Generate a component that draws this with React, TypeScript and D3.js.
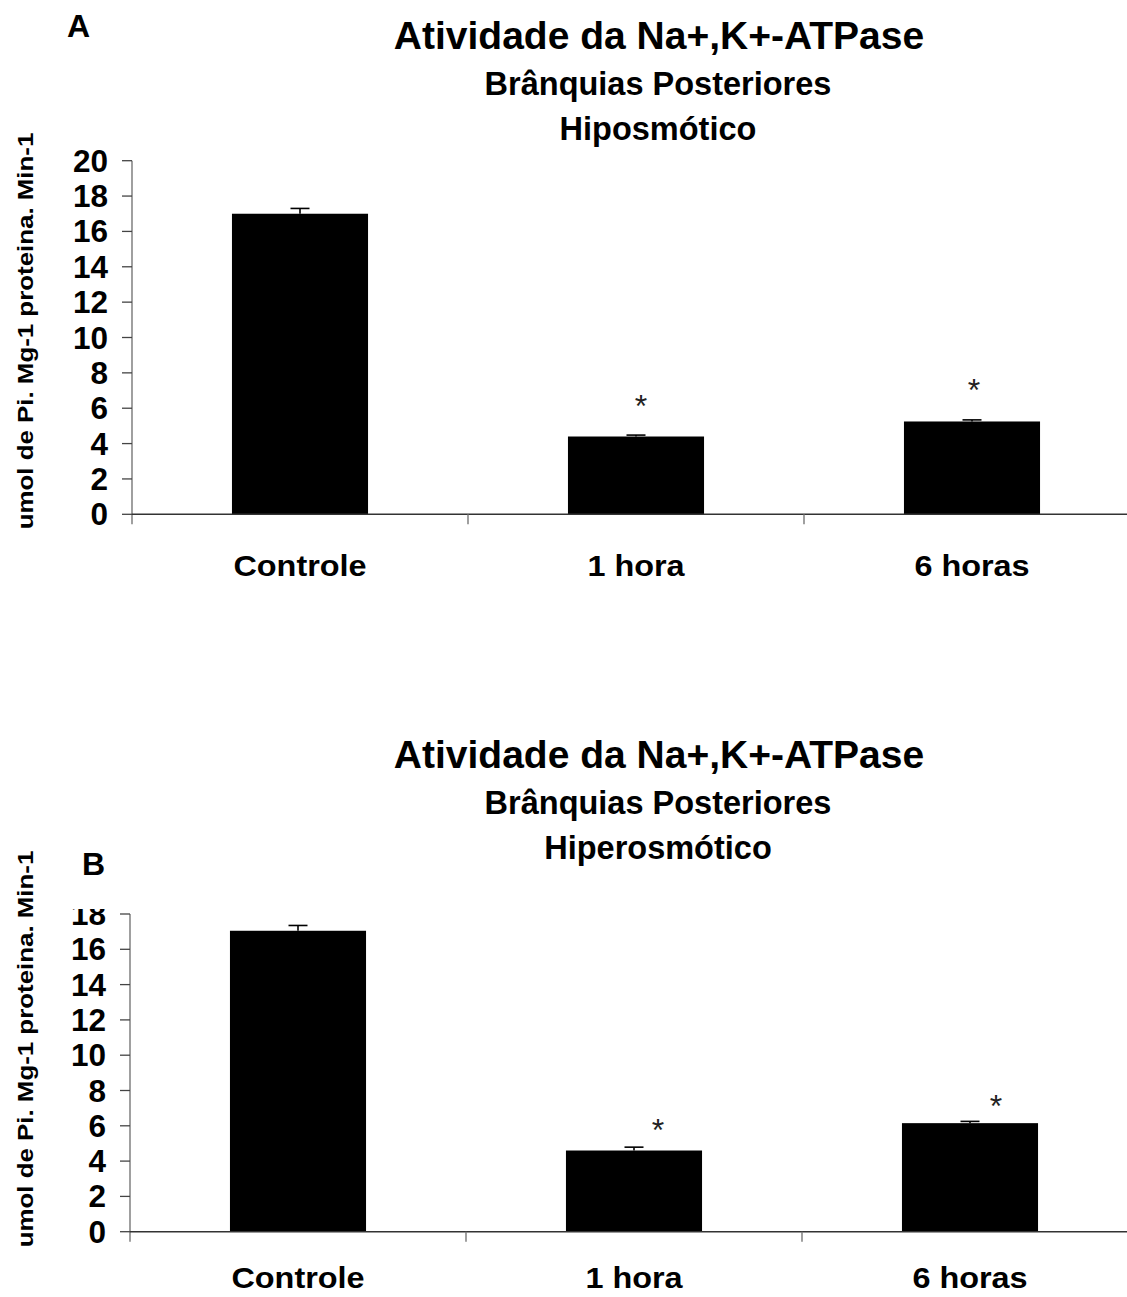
import React from 'react'
import * as d3 from 'd3'

// categories and values
const categories = ['Controle', '1 hora', '6 horas']

const hipoValues = [17.0, 4.4, 5.25]
const hipoErrors = [0.3, 0.08, 0.09]
const hipoStars = [null, 6.6, 7.5]
const hipoTicks = [0, 2, 4, 6, 8, 10, 12, 14, 16, 18, 20]

const hiperValues = [17.05, 4.6, 6.15]
const hiperErrors = [0.3, 0.19, 0.1]
const hiperStars = [null, 6.2, 7.55]
const hiperTicks = [0, 2, 4, 6, 8, 10, 12, 14, 16, 18]

const titleLine = 'Atividade da Na+,K+-ATPase'
const subtitleLine = 'Brânquias Posteriores'
const yLabel = 'umol de Pi. Mg-1 proteina. Min-1'

const font = '"Liberation Sans", Arial, Helvetica, sans-serif'

function Panel(props) {
    const { id, values, errors, stars, starDx, ticks, yMax, x0, y0, yTop, clipTop,
        titleY, condition, letter, letterX, letterY, labelCenterY, xLabelY } = props

    const step = 336
    const x = d3.scaleBand()
        .domain(categories)
        .range([x0, x0 + step * categories.length])
        .paddingInner(0.595)
        .paddingOuter(0.2975)
    const y = d3.scaleLinear().domain([0, yMax]).range([y0, yTop])

    const boundaries = d3.range(categories.length + 1).map(i => x0 + i * x.step())
    const capHalf = 9.5

    return (
        <g>
            <defs>
                <clipPath id={'clip-' + id}>
                    <rect x={0} y={clipTop} width={1127} height={y0 - clipTop + 40} />
                </clipPath>
            </defs>

            {/* titles */}
            <text x={659} y={titleY} textAnchor="middle" fontFamily={font} fontWeight="bold" fontSize={39}>{titleLine}</text>
            <text x={658} y={titleY + 46} textAnchor="middle" fontFamily={font} fontWeight="bold" fontSize={32.5}>{subtitleLine}</text>
            <text x={658} y={titleY + 91} textAnchor="middle" fontFamily={font} fontWeight="bold" fontSize={32.5}>{condition}</text>

            <text x={letterX} y={letterY} fontFamily={font} fontWeight="bold" fontSize={32}>{letter}</text>

            {/* y axis label */}
            <text transform={`translate(33,${labelCenterY}) rotate(-90) scale(1.15,1)`} textAnchor="middle"
                fontFamily={font} fontWeight="bold" fontSize={22.5}>{yLabel}</text>

            {/* bars */}
            {values.map((v, i) => (
                <rect key={'b' + i} x={x(categories[i])} y={y(v)} width={x.bandwidth()} height={y0 - y(v)} fill="#000" />
            ))}

            {/* error bars (upper only) */}
            {values.map((v, i) => {
                const cx = x(categories[i]) + x.bandwidth() / 2
                const top = y(v + errors[i])
                return (
                    <g key={'e' + i} stroke="#000" strokeWidth={1.6}>
                        <line x1={cx} x2={cx} y1={y(v)} y2={top} />
                        <line x1={cx - capHalf} x2={cx + capHalf} y1={top} y2={top} />
                    </g>
                )
            })}

            {/* significance marks */}
            {stars.map((s, i) => s == null ? null : (
                <text key={'s' + i} x={x(categories[i]) + x.bandwidth() / 2 + starDx[i]} y={y(s) + 19}
                    textAnchor="middle" fontFamily={font} fontSize={32} fill="#222">*</text>
            ))}

            {/* y axis */}
            <line x1={x0} x2={x0} y1={Math.max(yTop, clipTop + 1)} y2={y0 + 10} stroke="#777" strokeWidth={1.4} />
            {ticks.map(t => (
                <line key={'t' + t} x1={x0 - 10} x2={x0} y1={y(t)} y2={y(t)} stroke="#444" strokeWidth={1.3} />
            ))}
            <g clipPath={`url(#clip-${id})`}>
                {ticks.map(t => (
                    <text key={'l' + t} x={x0 - 24} y={y(t) + 11} textAnchor="end" fontFamily={font}
                        fontWeight="bold" fontSize={31.5}>{t}</text>
                ))}
            </g>

            {/* x axis */}
            <line x1={x0} x2={boundaries[boundaries.length - 1]} y1={y0} y2={y0} stroke="#333" strokeWidth={1.5} />
            {boundaries.slice(1).map((b, i) => (
                <line key={'xt' + i} x1={b} x2={b} y1={y0} y2={y0 + 10} stroke="#777" strokeWidth={1.4} />
            ))}
            {categories.map(c => (
                <text key={c} transform={`translate(${x(c) + x.bandwidth() / 2},${xLabelY}) scale(1.08,1)`}
                    textAnchor="middle" fontFamily={font} fontWeight="bold" fontSize={30}>{c}</text>
            ))}
        </g>
    )
}

export default function App() {
    return (
        <svg width={1127} height={1297} viewBox="0 0 1127 1297"
            style={{ position: 'absolute', left: 0, top: 0, background: '#fff' }}>
            <rect width={1127} height={1297} fill="#fff" />
            <Panel id="a" values={hipoValues} errors={hipoErrors} stars={hipoStars} starDx={[0, 5, 2]}
                ticks={hipoTicks} yMax={20} x0={132} y0={514.3} yTop={160.7} clipTop={0}
                titleY={49} condition="Hiposmótico" letter="A" letterX={67} letterY={37}
                labelCenterY={331} xLabelY={576} />
            <Panel id="b" values={hiperValues} errors={hiperErrors} stars={hiperStars} starDx={[0, 24, 26]}
                ticks={hiperTicks} yMax={18} x0={130} y0={1231.7} yTop={914} clipTop={909}
                titleY={768} condition="Hiperosmótico" letter="B" letterX={82} letterY={875}
                labelCenterY={1049} xLabelY={1288} />
        </svg>
    )
}
